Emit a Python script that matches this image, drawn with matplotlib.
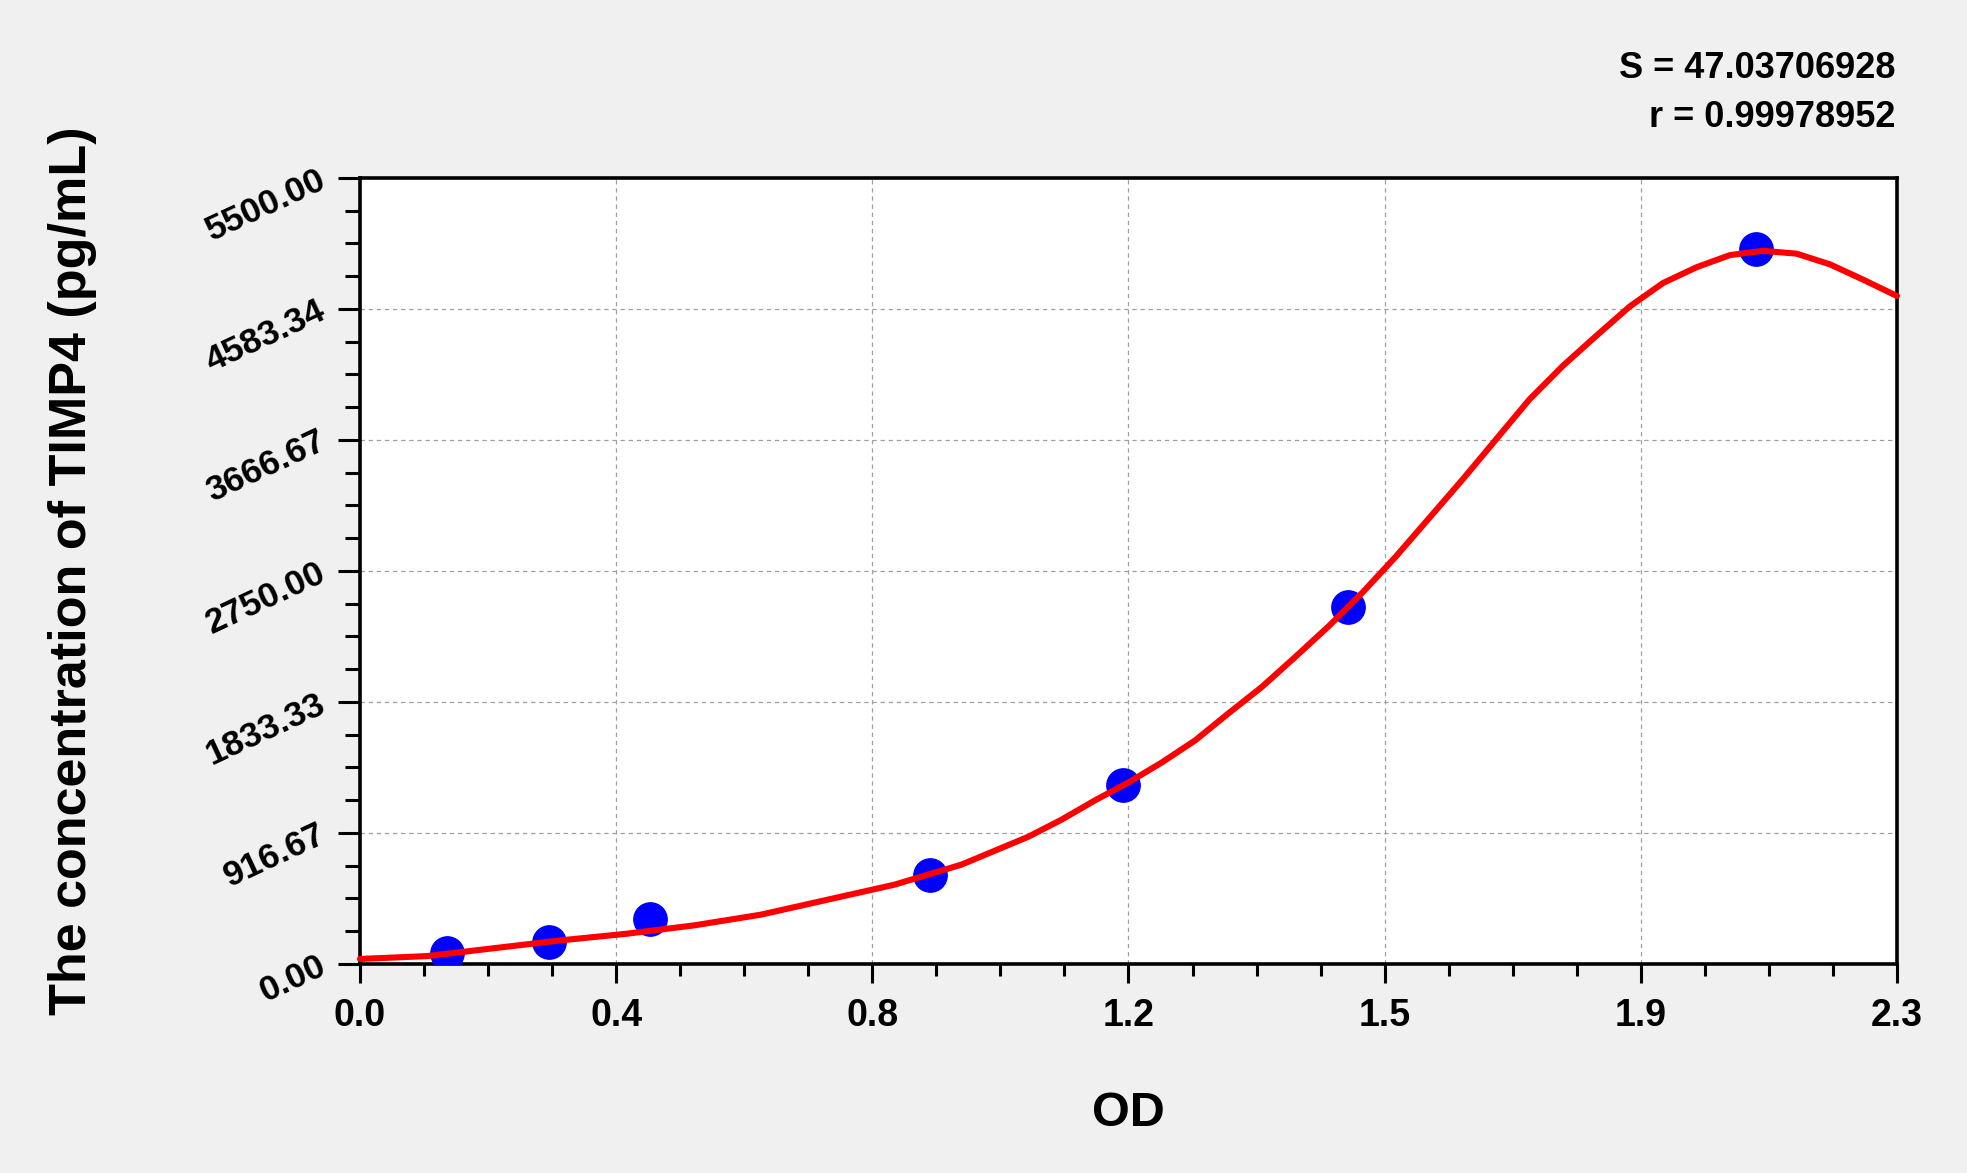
import matplotlib
matplotlib.use("Agg")
import matplotlib.pyplot as plt
import numpy as np
from matplotlib.ticker import AutoMinorLocator

plt.rcParams['font.family'] = ['Liberation Sans', 'DejaVu Sans']
plt.rcParams['font.weight'] = 'bold'

# standards (OD, concentration)
std_od = [0.130, 0.283, 0.434, 0.853, 1.142, 1.479, 2.089]
std_conc = [78.13, 156.25, 312.5, 625, 1250, 2500, 5000]

# fitted curve
curve_od = [0.0, 0.1, 0.2, 0.3, 0.4, 0.5, 0.6, 0.7, 0.8, 0.9, 1.0, 1.05, 1.1,
            1.15, 1.2, 1.25, 1.3, 1.35, 1.4, 1.45, 1.5, 1.55, 1.6, 1.65, 1.7,
            1.75, 1.8, 1.85, 1.9, 1.95, 2.0, 2.05, 2.1, 2.15, 2.2, 2.25, 2.3]
curve_conc = [35, 55, 110, 165, 212, 270, 345, 450, 555, 695, 890, 1010, 1145,
              1270, 1410, 1565, 1755, 1940, 2150, 2365, 2598, 2850, 3120, 3390,
              3670, 3950, 4185, 4395, 4600, 4765, 4875, 4960, 4990, 4970, 4895,
              4787, 4674]

x_ticklabels = ['0.0', '0.4', '0.8', '1.2', '1.5', '1.9', '2.3']
y_ticklabels = ['0.00', '916.67', '1833.33', '2750.00', '3666.67', '4583.34', '5500.00']
stats = ['S = 47.03706928', 'r = 0.99978952']

fig = plt.figure(figsize=(19.67, 11.73), dpi=100, facecolor='#f0f0f0')
ax = fig.add_axes([0.1830, 0.1782, 0.7814, 0.6701])
ax.set_facecolor('white')

ax.plot(std_od, std_conc, 'o', color='#0000ff', markersize=24, zorder=3)
ax.plot(curve_od, curve_conc, '-', color='#ff0000', linewidth=4.4, zorder=4,
        clip_on=False, solid_capstyle='round', solid_joinstyle='round')

ax.set_xlim(0, 2.3)
ax.set_ylim(0, 5500)
ax.set_xticks(np.linspace(0, 2.3, 7))
ax.set_xticklabels(x_ticklabels)
ax.set_yticks(np.linspace(0, 5500, 7))
ax.set_yticklabels(y_ticklabels, rotation=25, rotation_mode='anchor',
                   ha='right', va='center')
ax.xaxis.set_minor_locator(AutoMinorLocator(4))
ax.yaxis.set_minor_locator(AutoMinorLocator(4))

ax.tick_params(axis='x', which='major', direction='out', length=13.7, width=2.2,
               pad=11, labelsize=27)
ax.tick_params(axis='x', which='minor', direction='out', length=8.6, width=2.2)
ax.tick_params(axis='y', which='major', direction='out', length=16, width=2.2,
               pad=10, labelsize=25.5)
ax.tick_params(axis='y', which='minor', direction='out', length=11, width=2.2)

for s in ax.spines.values():
    s.set_linewidth(2.6)
    s.set_color('black')

ax.grid(True, which='major', color='#a0a0a0', linestyle=(0, (3.5, 3)), linewidth=0.9)
ax.set_axisbelow(True)

ax.set_xlabel('OD', fontsize=35, fontweight='bold', va='center')
ax.xaxis.set_label_coords(0.5, -0.19)
ax.set_ylabel('The concentration of TIMP4 (pg/mL)', fontsize=37.5,
              fontweight='bold', va='center')
ax.yaxis.set_label_coords(-0.187, 0.5)

fig.text(1895 / 1967, 1 - 78 / 1173, stats[0], ha='right', va='baseline',
         fontsize=26, fontweight='bold')
fig.text(1895 / 1967, 1 - 127 / 1173, stats[1], ha='right', va='baseline',
         fontsize=26, fontweight='bold')

fig.savefig('out.png', dpi=100, facecolor=fig.get_facecolor())
